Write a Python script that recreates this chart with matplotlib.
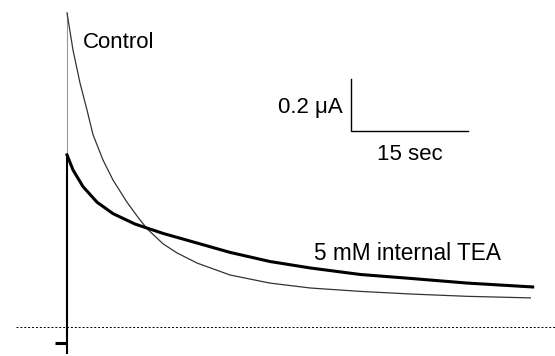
import numpy as np
import matplotlib.pyplot as plt

plt.rcParams['font.family'] = ['Liberation Sans', 'DejaVu Sans']

# control trace (time in s, current in uA)
t_ctrl = [0.0, 0.77, 1.67, 2.56, 3.33, 4.62, 5.90, 7.69, 9.10, 10.26, 12.31,
          14.1, 16.67, 20.9, 26.0, 31.2, 37.6, 44.0, 51.3, 59.4]
i_ctrl = [1.208, 1.065, 0.938, 0.835, 0.740, 0.642, 0.565, 0.480, 0.422, 0.378, 0.320,
          0.285, 0.246, 0.200, 0.169, 0.150, 0.137, 0.127, 0.118, 0.112]

# 5 mM internal TEA trace
t_tea = [0.0, 0.77, 2.05, 3.85, 5.90, 8.72, 12.31, 16.67, 20.9, 26.0, 31.2,
         37.6, 44.0, 51.3, 59.7]
i_tea = [0.662, 0.604, 0.540, 0.480, 0.436, 0.396, 0.360, 0.323, 0.287, 0.252, 0.227,
         0.202, 0.187, 0.169, 0.154]

# holding current before the step
t_hold = [-1.54, 0.0]
i_hold = [-0.0615, -0.0615]
i_transient_min = -0.10

fig = plt.figure(figsize=(5.55, 3.56), dpi=100)
ax = fig.add_axes([0, 0, 1, 1])
ax.set_xlim(-8.59, 62.56)
ax.set_ylim(-0.1115, 1.2577)
ax.axis('off')

# zero line
ax.axhline(0, xmin=16 / 555, color='k', lw=0.7, linestyle=(0, (2, 2)))

# control
ax.plot([0, 0], [i_tea[0], i_ctrl[0]], color='0.6', lw=0.8)
ax.plot(t_ctrl, i_ctrl, color='0.2', lw=0.9)

# TEA
ax.plot(t_hold, i_hold, color='k', lw=2.2, solid_capstyle='butt')
ax.plot([0, 0], [i_transient_min, i_tea[0]], color='k', lw=1.5)
ax.plot(t_tea, i_tea, color='k', lw=2.2)

# scale bar: 15 sec, 0.2 uA
x0, y0 = 36.41, 0.754
ax.plot([x0, x0, x0 + 15], [y0 + 0.2, y0, y0], color='k', lw=1.0)
ax.text(x0 - 1.0, y0 + 0.09, '0.2 \u03bcA', fontsize=16, ha='right', va='center')
ax.text(x0 + 7.5, y0 - 0.09, '15 sec', fontsize=16, ha='center', va='center')

ax.text(2.0, 1.095, 'Control', fontsize=16, ha='left', va='center')
ax.text(31.7, 0.283, '5 mM internal TEA', fontsize=16.3, ha='left', va='center')

fig.savefig('out.png', dpi=100)
